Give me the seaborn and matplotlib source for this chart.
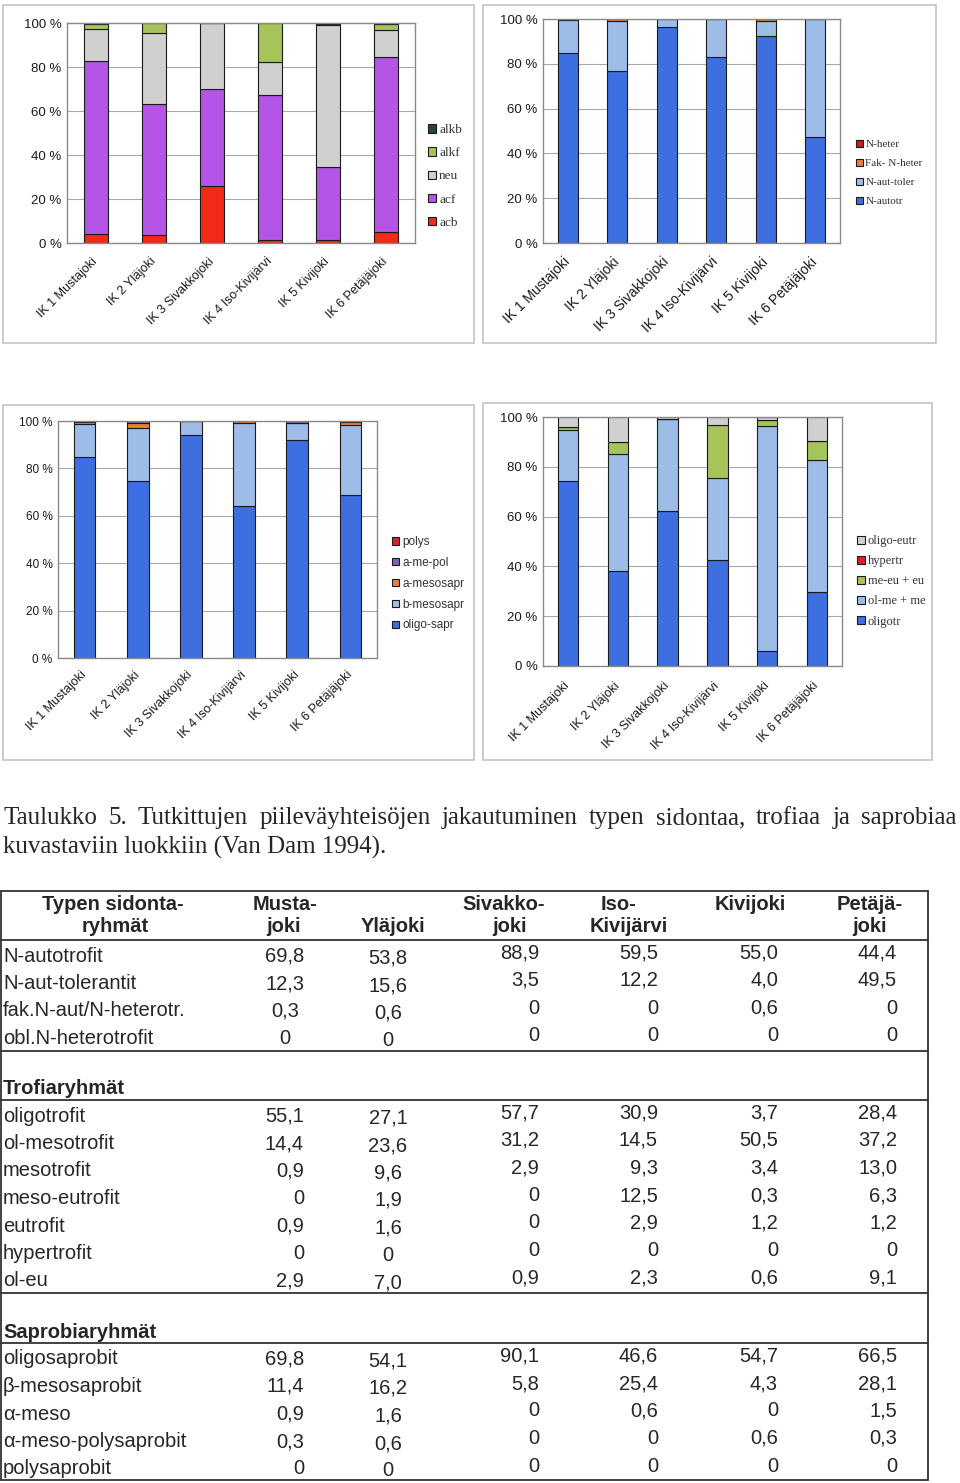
import matplotlib
matplotlib.use('Agg')
import matplotlib.pyplot as plt
from matplotlib.patches import Rectangle
from matplotlib.ticker import FuncFormatter
import seaborn as sns
import pandas as pd

sns.set_style('white')
plt.rcParams['font.family'] = ['Liberation Sans', 'DejaVu Sans']

W, H = 960, 1483

sites = ['IK 1 Mustajoki', 'IK 2 Yläjoki', 'IK 3 Sivakkojoki',
         'IK 4 Iso-Kivijärvi', 'IK 5 Kivijoki', 'IK 6 Petäjäjoki']

# pH-luokat (ei taulukossa) - osuudet luettu pylväistä, %
ph_alkb = [0.4, 0, 0, 0, 0.6, 0.5]
ph_alkf = [2.3, 4.4, 0, 17.8, 0.5, 2.5]
ph_neu = [14.7, 32.6, 30.2, 14.7, 64.5, 12.4]
ph_acf = [78.6, 59.5, 44.1, 66.0, 33.2, 79.8]
ph_acb = [4.0, 3.5, 25.7, 1.5, 1.2, 4.8]

# taulukko
n_autotrofit = [69.8, 53.8, 88.9, 59.5, 55.0, 44.4]
n_aut_tolerantit = [12.3, 15.6, 3.5, 12.2, 4.0, 49.5]
fak_n_heterotr = [0.3, 0.6, 0, 0, 0.6, 0]
obl_n_heterotrofit = [0, 0, 0, 0, 0, 0]

oligotrofit = [55.1, 27.1, 57.7, 30.9, 3.7, 28.4]
ol_mesotrofit = [14.4, 23.6, 31.2, 14.5, 50.5, 37.2]
mesotrofit = [0.9, 9.6, 2.9, 9.3, 3.4, 13.0]
meso_eutrofit = [0, 1.9, 0, 12.5, 0.3, 6.3]
eutrofit = [0.9, 1.6, 0, 2.9, 1.2, 1.2]
hypertrofit = [0, 0, 0, 0, 0, 0]
ol_eu = [2.9, 7.0, 0.9, 2.3, 0.6, 9.1]

oligosaprobit = [69.8, 54.1, 90.1, 46.6, 54.7, 66.5]
b_mesosaprobit = [11.4, 16.2, 5.8, 25.4, 4.3, 28.1]
a_meso = [0.9, 1.6, 0, 0.6, 0, 1.5]
a_meso_polysaprobit = [0.3, 0.6, 0, 0, 0.6, 0.3]
polysaprobit = [0, 0, 0, 0, 0, 0]

BLUE = '#3d6fe0'
LBLUE = '#9dbde8'
GRAY = '#d0d0d0'
GREEN = '#a6c45a'

fig = plt.figure(figsize=(W / 100, H / 100), dpi=100)

ov = fig.add_axes([0, 0, 1, 1], zorder=-1)
ov.set_xlim(0, W)
ov.set_ylim(H, 0)
ov.axis('off')

# paneelien kehykset
for x0, y0, x1, y1 in [(3, 5, 474, 343), (483, 5, 936, 343),
                       (3, 405, 474, 760), (483, 403, 932, 760)]:
    ov.add_patch(Rectangle((x0, y0), x1 - x0, y1 - y0, fill=False,
                           edgecolor='#c4c4c4', lw=1.2))


def px_rect(x0, y0, x1, y1):
    return [x0 / W, 1 - y1 / H, (x1 - x0) / W, (y1 - y0) / H]


def stacked_chart(rect, series, colors, ysize, xsize, xpad, leg_xy, leg_family,
                  leg_size, leg_spacing):
    # series: (selite, arvot) pinon ylimmästä alimpaan
    rows = []
    for label, vals in series:
        for site, v in zip(sites, vals):
            rows.append({'site': site, 'group': label, 'value': v})
    df = pd.DataFrame(rows)
    order = list(dict.fromkeys(lbl for lbl, _ in series))

    ax = fig.add_axes(px_rect(*rect))
    sns.histplot(data=df, x='site', weights='value', hue='group',
                 hue_order=order, multiple='fill', discrete=True, shrink=0.41,
                 palette=colors, alpha=1, edgecolor='#1a1a1a', linewidth=0.8,
                 ax=ax)
    ax.set_xlim(-0.5, 5.5)
    ax.set_ylim(0, 1)
    ax.set_yticks([0, 0.2, 0.4, 0.6, 0.8, 1.0])
    ax.yaxis.set_major_formatter(FuncFormatter(lambda v, p: f'{v * 100:.0f} %'))
    ax.set_xticks(range(len(sites)))
    ax.set_xticklabels(sites, rotation=45, ha='right', va='center',
                       rotation_mode='anchor', fontsize=xsize, color='#1a1a1a')
    ax.tick_params(axis='y', labelsize=ysize, labelcolor='#1a1a1a', length=0, pad=4)
    ax.tick_params(axis='x', length=0, pad=xpad)
    ax.yaxis.grid(True, color='#a8a8a8', lw=0.8)
    ax.set_axisbelow(True)
    for s in ax.spines.values():
        s.set_color('#8a8a8a')
        s.set_linewidth(1.0)
    ax.set_xlabel('')
    ax.set_ylabel('')

    sns.move_legend(ax, 'upper left',
                    bbox_to_anchor=(leg_xy[0] / W, 1 - leg_xy[1] / H),
                    bbox_transform=fig.transFigure, title=None, frameon=False,
                    fontsize=leg_size, handlelength=0.6, handleheight=0.6,
                    handletextpad=0.25, labelspacing=leg_spacing,
                    borderpad=0, borderaxespad=0)
    for t in ax.get_legend().get_texts():
        t.set_fontfamily(leg_family)
        t.set_color('#333333')
    return ax


stacked_chart((67, 23, 415, 243),
              [('alkb', ph_alkb), ('alkf', ph_alkf), ('neu', ph_neu),
               ('acf', ph_acf), ('acb', ph_acb)],
              {'alkb': '#1e4d2b', 'alkf': GREEN, 'neu': GRAY,
               'acf': '#b455e8', 'acb': '#f42a18'},
              9.5, 9, 12, (428, 124), 'Liberation Serif', 9.5, 0.85)

stacked_chart((543, 19, 840, 243),
              [('N-heter', obl_n_heterotrofit), ('Fak- N-heter', fak_n_heterotr),
               ('N-aut-toler', n_aut_tolerantit), ('N-autotr', n_autotrofit)],
              {'N-heter': '#c81e1e', 'Fak- N-heter': '#e8803a',
               'N-aut-toler': LBLUE, 'N-autotr': BLUE},
              9.5, 10, 12, (856, 140), 'Liberation Serif', 8, 0.85)

stacked_chart((58, 421, 377, 658),
              [('polys', polysaprobit), ('a-me-pol', a_meso_polysaprobit),
               ('a-mesosapr', a_meso), ('b-mesosapr', b_mesosaprobit),
               ('oligo-sapr', oligosaprobit)],
              {'polys': '#d8202a', 'a-me-pol': '#7f64b4', 'a-mesosapr': '#e8803a',
               'b-mesosapr': LBLUE, 'oligo-sapr': BLUE},
              8.5, 9, 11, (392, 536), 'Liberation Sans', 8.5, 0.75)

stacked_chart((543, 417, 842, 666),
              [('oligo-eutr', ol_eu), ('hypertr', hypertrofit),
               ('me-eu + eu', meso_eutrofit), ('me-eu + eu', eutrofit),
               ('ol-me + me', ol_mesotrofit), ('ol-me + me', mesotrofit),
               ('oligotr', oligotrofit)],
              {'oligo-eutr': GRAY, 'hypertr': '#d8202a', 'me-eu + eu': GREEN,
               'ol-me + me': LBLUE, 'oligotr': BLUE},
              9.5, 9, 13, (857, 535), 'Liberation Serif', 9, 0.65)

# otsikko
serif = ['Liberation Serif', 'DejaVu Serif']
line1 = ('Taulukko 5. Tutkittujen piileväyhteisöjen jakautuminen typen '
         'sidontaa, trofiaa ja saprobiaa')
words = [ov.text(0, 818, w, fontsize=18, family=serif, va='center')
         for w in line1.split(' ')]
fig.canvas.draw()
rend = fig.canvas.get_renderer()
widths = [t.get_window_extent(rend).width for t in words]
gap = (954 - sum(widths)) / (len(words) - 1)
xpos = 3
for t, wd in zip(words, widths):
    t.set_x(xpos)
    xpos += wd + gap
ov.text(3, 847, 'kuvastaviin luokkiin (Van Dam 1994).', fontsize=18,
        family=serif, va='center')

# taulukko
TS = 14.5
LC = '#333333'
for y in [891, 940, 1051, 1100, 1293, 1343, 1480]:
    ov.plot([1, 928], [y, y], color=LC, lw=1.3)
for x in [1, 928]:
    ov.plot([x, x], [891, 1480], color=LC, lw=1.3)

head1 = [('Typen sidonta-', 113), ('Musta-', 285), ('Sivakko-', 504),
         ('Iso-', 618), ('Kivijoki', 750), ('Petäjä-', 870)]
head2 = [('ryhmät', 115), ('joki', 284), ('Yläjoki', 393), ('joki', 509),
         ('Kivijärvi', 629), ('joki', 870)]
for txt, x in head1:
    ov.text(x, 904, txt, fontsize=TS, fontweight='bold', ha='center', va='center')
for txt, x in head2:
    ov.text(x, 927, txt, fontsize=TS, fontweight='bold', ha='center', va='center')


def fmt(v):
    return f'{v:.1f}'.replace('.', ',') if v else '0'


def table_rows(rows, ys, first_center):
    # sarakkeiden sijainti: (x, tasaus, y-siirto)
    cols = [(285 if first_center else 304, 'center' if first_center else 'right', 0),
            (388, 'center', 2), (539, 'right', -3), (658, 'right', -3),
            (778, 'right', -3), (897, 'right', -3)]
    for (label, vals), y in zip(rows, ys):
        ov.text(3, y, label, fontsize=TS, va='center')
        for v, (x, ha, dy) in zip(vals, cols):
            ov.text(x, y + dy, fmt(v), fontsize=TS, ha=ha, va='center')


table_rows([('N-autotrofit', n_autotrofit), ('N-aut-tolerantit', n_aut_tolerantit),
            ('fak.N-aut/N-heterotr.', fak_n_heterotr),
            ('obl.N-heterotrofit', obl_n_heterotrofit)],
           [956, 983.5, 1011, 1038.5], True)

ov.text(3, 1088, 'Trofiaryhmät', fontsize=TS, fontweight='bold', va='center')
table_rows([('oligotrofit', oligotrofit), ('ol-mesotrofit', ol_mesotrofit),
            ('mesotrofit', mesotrofit), ('meso-eutrofit', meso_eutrofit),
            ('eutrofit', eutrofit), ('hypertrofit', hypertrofit), ('ol-eu', ol_eu)],
           [1116, 1143.5, 1171, 1198.5, 1226, 1253.5, 1281], False)

ov.text(3, 1332, 'Saprobiaryhmät', fontsize=TS, fontweight='bold', va='center')
table_rows([('oligosaprobit', oligosaprobit), ('β-mesosaprobit', b_mesosaprobit),
            ('α-meso', a_meso), ('α-meso-polysaprobit', a_meso_polysaprobit),
            ('polysaprobit', polysaprobit)],
           [1359, 1386.5, 1414, 1441.5, 1469], False)

fig.savefig('out.png', dpi=100)
plt.close(fig)
